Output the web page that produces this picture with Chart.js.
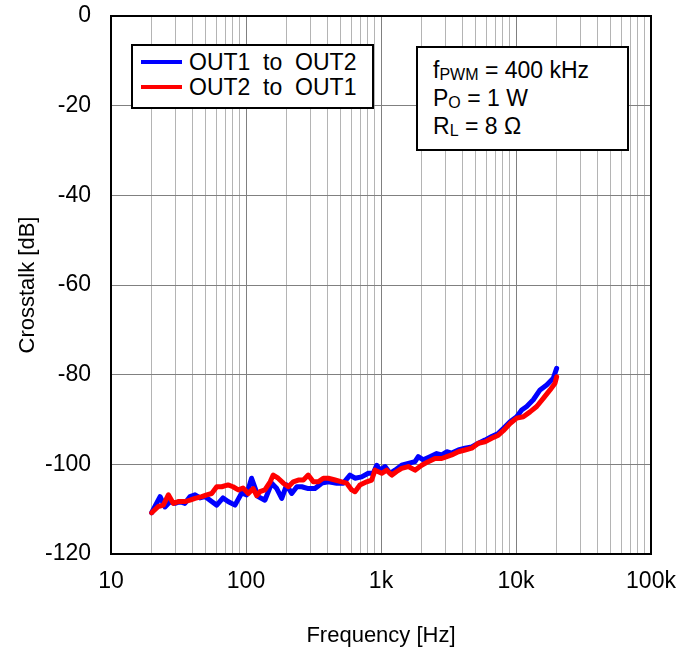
<!DOCTYPE html>
<html>
<head>
<meta charset="utf-8">
<script src="https://cdn.jsdelivr.net/npm/chart.js@4"></script>
<style>
  body { margin: 0; background: #fff; }
  #wrap { position: relative; width: 698px; height: 655px; font-family: "Liberation Sans", Arial, sans-serif; }
  .box { position: absolute; background: #fff; border: 2px solid #000; box-sizing: border-box; color: #000; font-size: 23px; }
  .row { position: absolute; white-space: pre; line-height: 26px; }
  .key { position: absolute; height: 4px; width: 41px; }
  sub { font-size: 16px; vertical-align: -2px; line-height: 0; }
</style>
</head>
<body>
<div id="wrap">
  <canvas id="chart" width="698" height="655"></canvas>
  <div class="box" style="left:131px; top:44px; width:243px; height:65px;">
    <div class="key" style="left:8px; top:14px; background:#0000ff;"></div>
    <div class="row" style="left:56px; top:3px;">OUT1  to  OUT2</div>
    <div class="key" style="left:8px; top:39px; background:#ff0000;"></div>
    <div class="row" style="left:56px; top:28px;">OUT2  to  OUT1</div>
  </div>
  <div class="box" style="left:416px; top:46px; width:213px; height:105px;">
    <div class="row" style="left:15px; top:9px;">f<sub>PWM</sub> = 400 kHz</div>
    <div class="row" style="left:15px; top:37px;">P<sub>O</sub> = 1 W</div>
    <div class="row" style="left:15px; top:65px;">R<sub>L</sub> = 8 Ω</div>
  </div>
</div>
<script>
// ====== DATA ======
const tickValues = [10, 100, 1000, 10000, 100000];
const tickLabels = ["10", "100", "1k", "10k", "100k"];

const out1Freq = [20, 23.1, 25.1, 27.4, 29.8, 32.4, 35.3, 38.5, 41.9, 45.6, 49.7, 55.7, 60.7, 67.6, 73.6, 82.9, 92.9, 101, 110, 123, 138, 155, 169, 184, 200, 218, 238, 259, 289, 324, 364, 407, 470, 526, 589, 642, 719, 805, 877, 929, 984, 1071, 1166, 1270, 1422, 1593, 1786, 1888, 2057, 2307, 2585, 2818, 3069, 3342, 3741, 4190, 4699, 5260, 5890, 6607, 7396, 8054, 9036, 10120, 11020, 12000, 13430, 15070, 16870, 18890, 20000];
const out1Db = [-110.8, -107.2, -109.5, -108.3, -108.7, -108.3, -108.7, -107.2, -106.8, -107.5, -107.2, -108.3, -109.1, -107.5, -108.3, -109.1, -106.4, -106.8, -103.1, -107.2, -108, -104.2, -105.4, -107.6, -104.6, -106.5, -105, -105, -105.4, -105.4, -104.2, -103.9, -104.2, -104.2, -102.4, -103.1, -102.8, -102, -102, -100.2, -101.3, -100.5, -102, -101.3, -100.2, -99.8, -99.4, -98.3, -99, -98.3, -97.6, -97.9, -97.2, -97.5, -96.8, -96.4, -96.1, -95.3, -94.6, -93.8, -93.1, -92, -90.5, -89.4, -87.9, -87.1, -85.6, -83.4, -82.3, -80.8, -78.6];

const out2Freq = [20, 22.4, 24.4, 26.6, 28.9, 31.5, 35.3, 38.5, 41.9, 47, 51.2, 55.7, 60.7, 66.1, 73.6, 80.1, 87.7, 95, 104, 113, 120, 127, 138, 151, 159, 173, 189, 206, 224, 244, 266, 289, 315, 343, 374, 407, 457, 512, 557, 607, 642, 698, 783, 853, 903, 1012, 1102, 1200, 1307, 1422, 1593, 1786, 2001, 2240, 2512, 2818, 3069, 3342, 3741, 4190, 4699, 5260, 5890, 6607, 7396, 8054, 9036, 10120, 11330, 12700, 14230, 15930, 17870, 19450, 20000];
const out2Db = [-110.8, -109.4, -109.1, -106.8, -108.7, -108.3, -108.3, -108, -107.6, -107.2, -106.8, -106.5, -105, -105, -104.6, -105, -105.7, -105.3, -106.5, -105.4, -107, -106.1, -105.7, -103.9, -102.4, -103.1, -104.2, -105, -103.9, -103.5, -103.5, -102.4, -103.9, -103.9, -103.1, -103.1, -103.5, -103.9, -104.2, -105.7, -106.1, -104.6, -103.9, -103.5, -101.3, -102, -101.3, -102.4, -101.6, -100.9, -100.5, -101.3, -100.2, -99.4, -98.7, -98.7, -98.3, -97.9, -97.2, -96.8, -96.4, -95.3, -95, -94.2, -93.5, -92.5, -90.9, -89.7, -89.4, -88.3, -87.1, -85.3, -83.4, -81.9, -80.5];

const toPoints = (xs, ys) => xs.map((x, i) => ({ x: x, y: ys[i] }));

// ====== PLOT FRAME ======
const framePlugin = {
  id: "frame",
  afterDraw(chart) {
    const a = chart.chartArea;
    const ctx = chart.ctx;
    ctx.save();
    ctx.strokeStyle = "#000";
    ctx.lineWidth = 2;
    ctx.strokeRect(a.left, a.top, a.right - a.left, a.bottom - a.top);
    ctx.restore();
  }
};

// no label overflow padding, the layout padding places the plot
function noOverflow(scale) {
  scale.paddingTop = 0;
  scale.paddingBottom = 0;
  scale.paddingLeft = 0;
  scale.paddingRight = 0;
}

const fontFamily = '"Liberation Sans", Arial, sans-serif';

new Chart(document.getElementById("chart"), {
  type: "line",
  data: {
    datasets: [
      {
        label: "OUT1 to OUT2",
        data: toPoints(out1Freq, out1Db),
        borderColor: "#0000ff",
        borderWidth: 5,
        pointRadius: 0,
        order: 1
      },
      {
        label: "OUT2 to OUT1",
        data: toPoints(out2Freq, out2Db),
        borderColor: "#ff0000",
        borderWidth: 5,
        pointRadius: 0,
        order: 0
      }
    ]
  },
  options: {
    responsive: false,
    animation: false,
    layout: { padding: { left: 0, top: 16, right: 47, bottom: 0 } },
    plugins: {
      legend: { display: false },
      tooltip: { enabled: false }
    },
    elements: { line: { borderJoinStyle: "round", borderCapStyle: "round", tension: 0 } },
    scales: {
      x: {
        type: "logarithmic",
        min: 10,
        max: 100000,
        afterBuildTicks(scale) {
          const ticks = [];
          for (let d = 10; d < 100000; d *= 10) {
            for (let m = 1; m < 10; m++) ticks.push({ value: d * m });
          }
          ticks.push({ value: 100000 });
          scale.ticks = ticks;
        },
        afterFit(scale) { scale.height = 101; noOverflow(scale); },
        ticks: {
          autoSkip: false,
          maxRotation: 0,
          padding: 14,
          color: "#000",
          font: { family: fontFamily, size: 23 },
          callback(v) {
            const i = tickValues.indexOf(v);
            return i >= 0 ? tickLabels[i] : "";
          }
        },
        grid: {
          drawTicks: false,
          color(ctx) {
            return tickValues.includes(ctx.tick.value) ? "#808080" : "#b4b4b4";
          },
          lineWidth: 1
        },
        border: { display: false },
        title: {
          display: true,
          text: "Frequency [Hz]",
          color: "#000",
          font: { family: fontFamily, size: 22 },
          padding: { bottom: 6 }
        }
      },
      y: {
        min: -120,
        max: 0,
        afterFit(scale) { scale.width = 111; noOverflow(scale); },
        ticks: {
          stepSize: 20,
          padding: 20,
          color: "#000",
          font: { family: fontFamily, size: 23 }
        },
        grid: { drawTicks: false, color: "#808080", lineWidth: 1 },
        border: { display: false },
        title: {
          display: true,
          text: "Crosstalk [dB]",
          color: "#000",
          font: { family: fontFamily, size: 22 },
          padding: { top: 15 }
        }
      }
    }
  },
  plugins: [framePlugin]
});
</script>
</body>
</html>
